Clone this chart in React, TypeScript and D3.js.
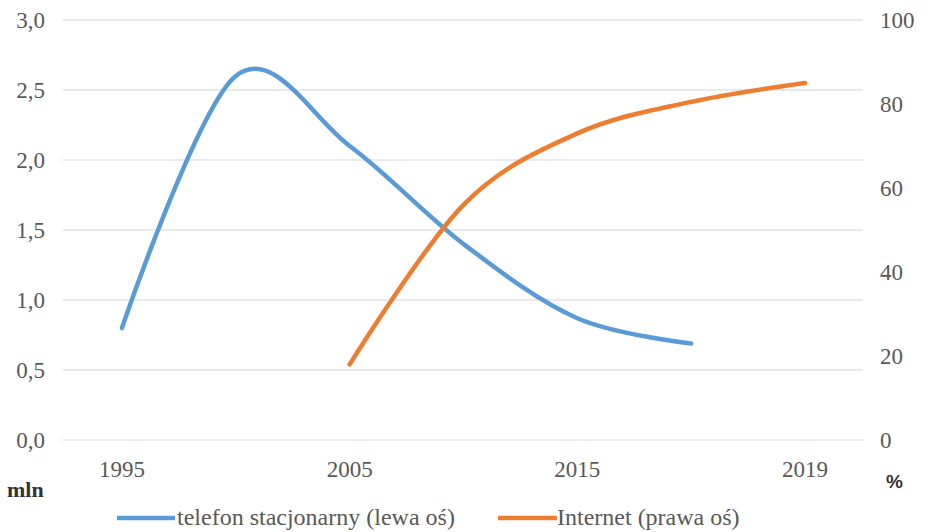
import React from 'react';
import * as d3 from 'd3';

// Dane
const years = ['1995', '2000', '2005', '2010', '2015', '2017', '2019'];
const tickYears = ['1995', '2005', '2015', '2019'];
const telefon: (number | null)[] = [0.8, 2.6, 2.1, 1.4, 0.87, 0.69, null];
const internet: (number | null)[] = [null, null, 18, 56, 73, 80.5, 85];
const leftTicks = [0, 0.5, 1, 1.5, 2, 2.5, 3];
const rightTicks = [0, 20, 40, 60, 80, 100];

const W = 926;
const H = 532;
const SERIF = '"Liberation Serif", "Times New Roman", serif';
const BLUE = '#5B9BD5';
const ORANGE = '#ED7D31';
const GREY = '#595959';

export default function App() {
  const x = d3.scalePoint<string>().domain(years).range([65, 862]).padding(0.5);
  const yL = d3.scaleLinear().domain([0, 3]).range([440, 20]);
  const yR = d3.scaleLinear().domain([0, 100]).range([440, 20]);

  const toPts = (vals: (number | null)[], y: d3.ScaleLinear<number, number>) =>
    vals
      .map((v, i) => (v == null ? null : ([x(years[i])!, y(v)] as [number, number])))
      .filter((p): p is [number, number] => p !== null);

  const line = d3.line<[number, number]>().curve(d3.curveCardinal.tension(0));

  return (
    <svg
      width={W}
      height={H}
      style={{position: 'absolute', left: 0, top: 0, background: '#fff'}}
    >
      {/* siatka */}
      {leftTicks.map((t) => (
        <line key={t} x1={63} x2={863} y1={yL(t)} y2={yL(t)} stroke="#E3E3E3" strokeWidth={1.3} />
      ))}

      {/* lewa oś */}
      {leftTicks.map((t) => (
        <text key={t} x={45} y={yL(t)} dy="0.35em" textAnchor="end" fontSize={23} fill={GREY} fontFamily={SERIF}>
          {t.toFixed(1).replace('.', ',')}
        </text>
      ))}

      {/* prawa oś */}
      {rightTicks.map((t) => (
        <text key={t} x={880} y={yR(t)} dy="0.35em" textAnchor="start" fontSize={23} fill={GREY} fontFamily={SERIF}>
          {t}
        </text>
      ))}

      {/* oś x */}
      {tickYears.map((yr) => (
        <text key={yr} x={x(yr)} y={477} textAnchor="middle" fontSize={23} fill={GREY} fontFamily={SERIF}>
          {yr}
        </text>
      ))}

      <text x={7} y={497} fontSize={22} fontWeight="bold" fill="#333" fontFamily={SERIF}>mln</text>
      <text x={886} y={488} fontSize={19} fontWeight="bold" fill="#333" fontFamily='"Liberation Sans", Arial, sans-serif'>%</text>

      {/* serie */}
      <path d={line(toPts(telefon, yL)) ?? ''} fill="none" stroke={BLUE} strokeWidth={4.5} strokeLinecap="round" />
      <path d={line(toPts(internet, yR)) ?? ''} fill="none" stroke={ORANGE} strokeWidth={4.5} strokeLinecap="round" />

      {/* legenda */}
      <line x1={117} x2={175} y1={518} y2={518} stroke={BLUE} strokeWidth={4.5} />
      <text x={177} y={525} fontSize={24} fill={GREY} fontFamily={SERIF}>telefon stacjonarny (lewa oś)</text>
      <line x1={498} x2={557} y1={518} y2={518} stroke={ORANGE} strokeWidth={4.5} />
      <text x={557} y={525} fontSize={24} fill={GREY} fontFamily={SERIF}>Internet (prawa oś)</text>
    </svg>
  );
}
